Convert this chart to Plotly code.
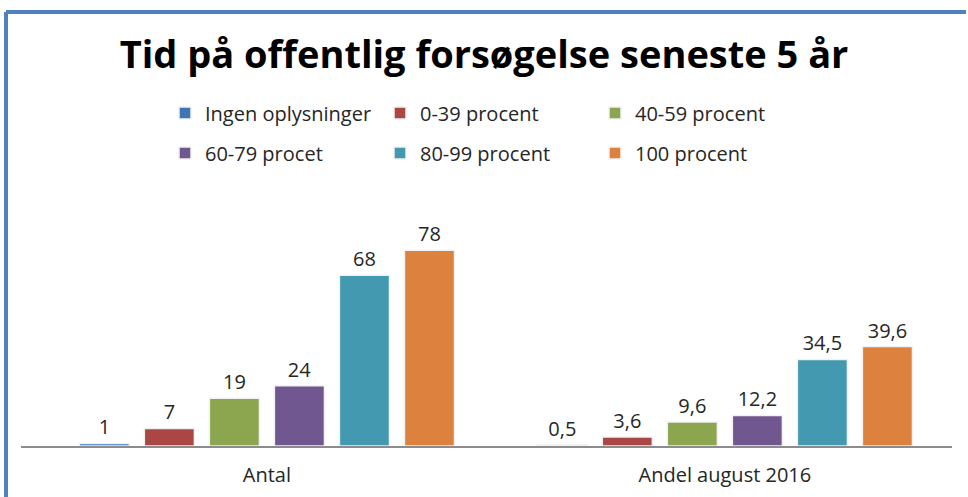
import plotly.graph_objects as go

# data
categories = ['Antal', 'Andel august 2016']
series_names = ['Ingen oplysninger', '0-39 procent', '40-59 procent',
                '60-79 procet', '80-99 procent', '100 procent']
ingen = [1, 0.5]
p0_39 = [7, 3.6]
p40_59 = [19, 9.6]
p60_79 = [24, 12.2]
p80_99 = [68, 34.5]
p100 = [78, 39.6]
labels_ingen = ['1', '0,5']
labels_0_39 = ['7', '3,6']
labels_40_59 = ['19', '9,6']
labels_60_79 = ['24', '12,2']
labels_80_99 = ['68', '34,5']
labels_100 = ['78', '39,6']

values = [ingen, p0_39, p40_59, p60_79, p80_99, p100]
labels = [labels_ingen, labels_0_39, labels_40_59, labels_60_79, labels_80_99, labels_100]
colors = ['#3E75B5', '#AA4644', '#8BA64E', '#71578F', '#4299B0', '#DC823E']
legend_rows = ['legend', 'legend', 'legend', 'legend2', 'legend2', 'legend2']

W, H = 968, 497
ml, mr, mt, mb = 21, 16, 190, 51
pw, ph = W - ml - mr, H - mt - mb

fig = go.Figure()
for name, vals, txt, col, lg in zip(series_names, values, labels, colors, legend_rows):
    fig.add_trace(go.Bar(
        x=categories, y=vals, name=name, legend=lg,
        marker=dict(color=col, line=dict(color='#F2F2F2', width=1.5)),
        text=txt, textposition='outside', cliponaxis=False,
        textfont=dict(size=20, color='#262626', family='Open Sans'),
    ))

legend_style = dict(orientation='h', x=(165 - ml) / pw, xanchor='left',
                    yanchor='middle', entrywidth=170, entrywidthmode='pixels',
                    font=dict(size=20, color='#262626'),
                    itemwidth=30, bgcolor='rgba(0,0,0,0)')

fig.update_layout(
    width=W, height=H,
    margin=dict(l=ml, r=mr, t=mt, b=mb),
    paper_bgcolor='white', plot_bgcolor='white',
    font=dict(family='Open Sans', color='#262626'),
    barmode='group', bargap=0.148, bargroupgap=0.23,
    title=dict(text='<b>Tid på offentlig forsøgelse seneste 5 år</b>',
               x=0.5, xanchor='center', y=1 - 55 / H, yanchor='middle',
               font=dict(size=38, color='black', family='Open Sans')),
    legend=dict(legend_style, y=(446 - 113) / ph),
    legend2=dict(legend_style, y=(446 - 153) / ph),
    xaxis=dict(range=[-0.537, 1.496], showgrid=False, showline=True,
               linecolor='#8C8C8C', linewidth=1.5, ticks='', automargin=False,
               tickfont=dict(size=20, color='#262626'), ticklabelstandoff=10),
    yaxis=dict(range=[0, 102], visible=False),
    showlegend=True,
)

# blue frame of the chart area (top and left edges)
fx0 = (6 - ml) / pw
fx1 = (966 - ml) / pw
fy_top = (446 - 12) / ph
fy_bot = (446 - 500) / ph
fig.add_shape(type='line', xref='paper', yref='paper', x0=fx0, x1=fx1, y0=fy_top, y1=fy_top,
              line=dict(color='#4F81BD', width=4))
fig.add_shape(type='line', xref='paper', yref='paper', x0=fx0, x1=fx0, y0=fy_top, y1=fy_bot,
              line=dict(color='#4F81BD', width=4))

fig.write_html('out.html', config={'displayModeBar': False},
               post_script="document.body.style.margin='0';")
